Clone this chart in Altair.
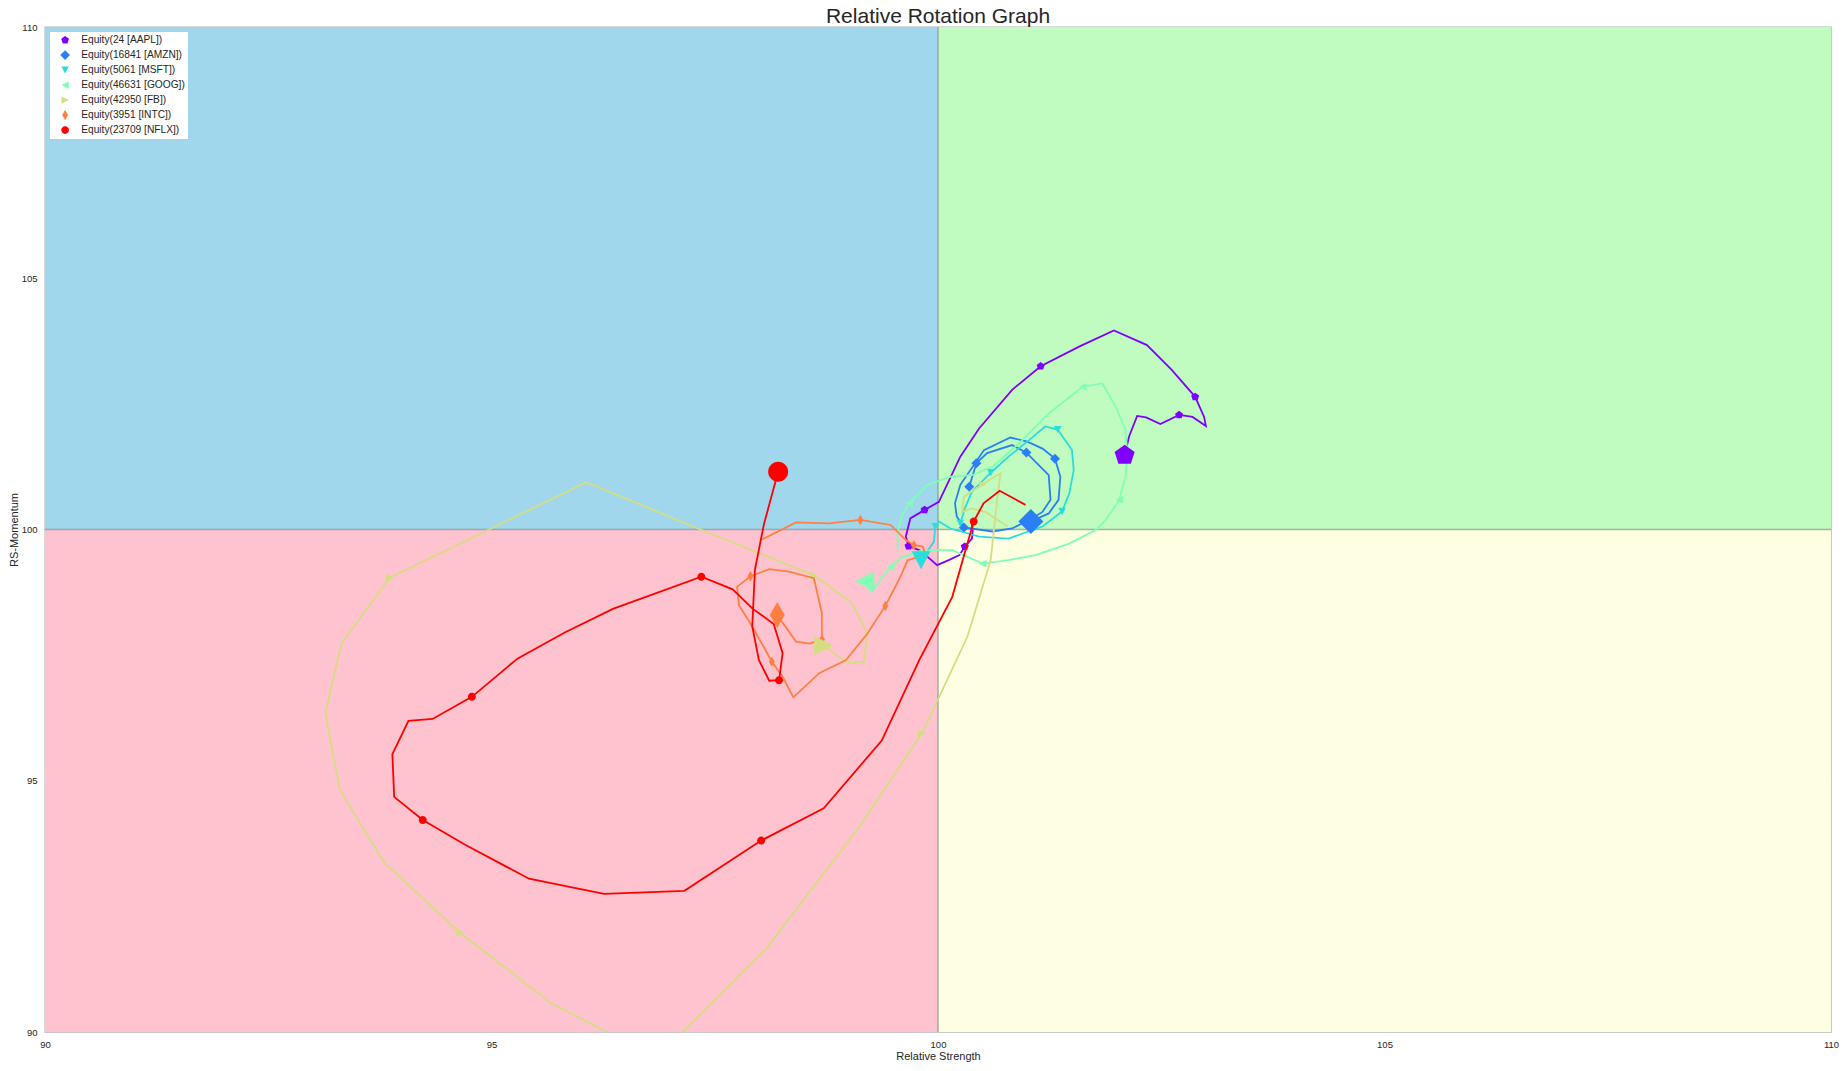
import pandas as pd
import altair as alt

NAMES = ["Equity(24 [AAPL])", "Equity(16841 [AMZN])", "Equity(5061 [MSFT])",
         "Equity(46631 [GOOG])", "Equity(42950 [FB])", "Equity(3951 [INTC])",
         "Equity(23709 [NFLX])"]
COLORS = ["#8000ff", "#2a7ff6", "#2adddd", "#80ffb4", "#d4dd80", "#ff8042", "#ff0000"]
SHAPES = [
    "M0,-1.05L1,-0.32L0.62,0.85L-0.62,0.85L-1,-0.32Z",   # pentagon
    "M0,-1.25L1.25,0L0,1.25L-1.25,0Z",                    # diamond
    "M-0.95,-0.9L0.95,-0.9L0,0.9Z",                       # triangle down
    "M-0.95,0L0.95,-0.95L0.95,0.95Z",                     # triangle left
    "M0.95,0L-0.95,-0.95L-0.95,0.95Z",                    # triangle right
    "M0,-1.3L0.75,0L0,1.3L-0.75,0Z",                      # thin diamond
    "M1,0A1,1,0,1,1,-1,0A1,1,0,1,1,1,0Z",                 # circle
]

TICKS = [90, 95, 100, 105, 110]
MID = [100]

# quadrants: lagging / improving / leading / weakening
QUAD_X = [90, 90, 100, 100]
QUAD_X2 = [100, 100, 110, 110]
QUAD_Y = [90, 100, 100, 90]
QUAD_Y2 = [100, 110, 110, 100]
QUAD_FILL = ["#fec3ce", "#a0d7ec", "#c0fcc0", "#fefee2"]

AAPL_X = [100.37, 100.39, 100.38, 100.30, 100.24, 100.12, 99.99, 99.90, 99.79, 99.67, 99.64,
          99.69, 99.85, 100.01, 100.25, 100.46, 100.83, 101.15, 101.58, 101.97, 102.34,
          102.62, 102.88, 102.98, 103.00, 102.85, 102.70, 102.49, 102.33, 102.23, 102.14, 102.09]
AAPL_Y = [100.20, 99.99, 99.82, 99.66, 99.49, 99.39, 99.29, 99.43, 99.59, 99.67, 99.86,
          100.22, 100.39, 100.55, 101.45, 102.01, 102.78, 103.25, 103.64, 103.96, 103.67,
          103.17, 102.64, 102.24, 102.06, 102.24, 102.28, 102.10, 102.23, 102.26, 101.85, 101.48]
AAPL_M = [3, 9, 12, 17, 22, 26]

AMZN_X = [100.35, 100.43, 100.55, 100.83, 100.99, 101.24, 101.26, 101.17, 101.02, 100.83,
          100.61, 100.29, 100.21, 100.19, 100.25, 100.515, 100.81, 101.00, 101.17, 101.31,
          101.37, 101.35, 101.24, 101.04]
AMZN_Y = [100.85, 101.32, 101.52, 101.68, 101.53, 101.08, 100.59, 100.35, 100.19, 100.02,
          99.96, 100.04, 100.26, 100.52, 100.89, 101.58, 101.83, 101.75, 101.61, 101.41,
          101.05, 100.59, 100.32, 100.16]
AMZN_M = [0, 1, 4, 11, 19]

MSFT_X = [100.25, 100.30, 100.38, 100.59, 100.79, 101.00, 101.20, 101.34, 101.50, 101.52,
          101.47, 101.39, 101.17, 100.79, 100.46, 100.14, 100.01, 99.97, 99.955, 99.81]
MSFT_Y = [100.12, 100.42, 100.75, 101.13, 101.45, 101.75, 102.05, 101.99, 101.58, 101.18,
          100.72, 100.36, 100.06, 99.82, 99.86, 100.02, 100.16, 100.06, 99.76, 99.39]
MSFT_M = [0, 3, 7, 11, 17]

GOOG_X = [99.55, 99.545, 99.59, 99.675, 99.88, 100.14, 100.38, 100.61, 100.91, 101.24,
          101.62, 101.84, 101.99, 102.10, 102.12, 102.10, 102.03, 101.88, 101.765, 101.47,
          101.09, 100.79, 100.50, 100.16, 99.97, 99.79, 99.58, 99.47, 99.38, 99.26, 99.18]
GOOG_Y = [99.59, 99.92, 100.26, 100.52, 100.89, 101.05, 101.08, 101.25, 101.72, 102.31,
          102.84, 102.91, 102.44, 101.98, 101.52, 101.05, 100.59, 100.19, 99.99, 99.72,
          99.49, 99.39, 99.32, 99.59, 99.59, 99.57, 99.43, 99.26, 99.06, 98.76, 98.97]
GOOG_M = [3, 10, 16, 22, 27]

FB_X = [100.78, 100.53, 100.37, 100.27, 100.29, 100.50, 100.70, 100.66, 100.59, 100.33,
        99.82, 99.12, 98.09, 96.85, 95.67, 94.65, 93.80, 93.30, 93.14, 93.32,
        93.86, 94.95, 96.06, 97.30, 98.61, 99.04, 99.21, 99.17, 98.985, 98.72]
FB_Y = [100.06, 100.35, 100.42, 100.35, 100.65, 100.90, 101.12, 100.55, 99.39, 97.87,
        95.94, 94.09, 91.69, 89.49, 90.57, 91.97, 93.37, 94.82, 96.35, 97.73,
        99.04, 99.98, 100.94, 100.03, 99.09, 98.53, 97.93, 97.37, 97.34, 97.69]
FB_M = [5, 10, 15, 20, 24]

INTC_X = [98.03, 98.41, 98.78, 99.13, 99.47, 99.64, 99.73, 99.83, 99.86, 99.66,
          99.56, 99.41, 99.21, 98.97, 98.67, 98.38, 98.26, 98.14, 97.92, 97.77,
          97.75, 97.90, 98.11, 98.33, 98.61, 98.70, 98.70, 98.56, 98.41, 98.20]
INTC_Y = [99.80, 100.14, 100.12, 100.19, 100.09, 99.79, 99.69, 99.66, 99.49, 99.39,
          98.99, 98.48, 97.93, 97.40, 97.14, 96.66, 97.07, 97.37, 98.07, 98.50,
          98.86, 99.07, 99.21, 99.16, 99.03, 98.33, 97.81, 97.73, 97.77, 98.30]
INTC_M = [3, 6, 11, 17, 21, 26]

NFLX_X = [100.98, 100.69, 100.51, 100.40, 100.16, 99.79, 99.37, 98.72, 98.02, 97.16,
          96.26, 95.42, 94.70, 94.23, 93.91, 93.89, 94.07, 94.34, 94.78, 95.29,
          95.82, 96.36, 97.35, 97.70, 97.92, 98.16, 98.26, 98.22, 98.11, 97.995,
          97.92, 97.95, 98.05, 98.21]
NFLX_Y = [100.49, 100.77, 100.52, 100.16, 98.66, 97.40, 95.80, 94.45, 93.81, 92.81,
          92.75, 93.05, 93.73, 94.22, 94.68, 95.53, 96.19, 96.23, 96.67, 97.43,
          97.95, 98.42, 99.06, 98.81, 98.43, 98.12, 97.54, 97.00, 96.99, 97.40,
          98.07, 99.20, 100.10, 101.15]
NFLX_M = [3, 8, 13, 18, 22, 27]

SERIES = [
    (AAPL_X, AAPL_Y, AAPL_M), (AMZN_X, AMZN_Y, AMZN_M), (MSFT_X, MSFT_Y, MSFT_M),
    (GOOG_X, GOOG_Y, GOOG_M), (FB_X, FB_Y, FB_M), (INTC_X, INTC_Y, INTC_M),
    (NFLX_X, NFLX_Y, NFLX_M),
]

rows = []
for name, (xs, ys, marks) in zip(NAMES, SERIES):
    for i, (x, y) in enumerate(zip(xs, ys)):
        if i == len(xs) - 1:
            kind = "big"
        elif i in marks:
            kind = "small"
        else:
            kind = "none"
        rows.append({"series": name, "idx": i, "x": x, "y": y, "kind": kind})
df = pd.DataFrame(rows)

quads = pd.DataFrame({"x": QUAD_X, "x2": QUAD_X2, "y": QUAD_Y, "y2": QUAD_Y2, "fill": QUAD_FILL})

FONT = "Liberation Sans"
scale_xy = alt.Scale(domain=[90, 110], nice=False, zero=False)
color_scale = alt.Scale(domain=NAMES, range=COLORS)
shape_scale = alt.Scale(domain=NAMES, range=SHAPES)

axis_x = alt.Axis(values=TICKS, format="d", title="Relative Strength", labelPadding=7,
                  titlePadding=2, labelFlush=False)
axis_y = alt.Axis(values=TICKS, format="d", title="RS-Momentum", labelPadding=8,
                  titlePadding=2, labelFlush=False)


def enc_x():
    return alt.X("x:Q", scale=scale_xy, axis=axis_x)


def enc_y():
    return alt.Y("y:Q", scale=scale_xy, axis=axis_y)


legend = alt.Legend(
    title=None, orient="top-left", offset=5, padding=3, fillColor="white",
    labelFont=FONT, labelFontSize=10.2, labelColor="#262626", labelLimit=0,
    symbolSize=60, symbolOffset=7, labelOffset=11, rowPadding=4,
    symbolStrokeWidth=0, zindex=1,
)

quad_layer = alt.Chart(quads).mark_rect().encode(
    x=enc_x(), x2="x2:Q", y=enc_y(), y2="y2:Q",
    fill=alt.Fill("fill:N", scale=None),
)

mid_v = alt.Chart(pd.DataFrame({"x": MID})).mark_rule(
    color="#888888", opacity=0.65, strokeWidth=1.5
).encode(x=enc_x())
mid_h = alt.Chart(pd.DataFrame({"y": MID})).mark_rule(
    color="#888888", opacity=0.65, strokeWidth=1.5
).encode(y=enc_y())

layers = [quad_layer, mid_v, mid_h]
for name, color, shape in zip(NAMES, COLORS, SHAPES):
    d = df[df["series"] == name]
    line = alt.Chart(d).mark_line(strokeWidth=1.8, clip=True, color=color).encode(
        x=enc_x(), y=enc_y(), order=alt.Order("idx:Q"),
    )
    small = alt.Chart(d[d["kind"] == "small"]).mark_point(
        filled=True, opacity=1, size=64, strokeWidth=0, color=color, shape=shape
    ).encode(x=enc_x(), y=enc_y())
    layers += [line, small]

big = alt.Chart(df[df["kind"] == "big"]).mark_point(
    filled=True, opacity=1, size=400, strokeWidth=0
).encode(
    x=enc_x(), y=enc_y(),
    color=alt.Color("series:N", scale=color_scale, legend=legend),
    shape=alt.Shape("series:N", scale=shape_scale, legend=legend),
)
layers.append(big)

chart = (
    alt.layer(*layers)
    .properties(
        width=1786, height=1005,
        autosize=alt.AutoSizeParams(type="none"),
        padding={"left": 37, "top": 19, "right": 8, "bottom": 33},
        title=alt.TitleParams("Relative Rotation Graph", font=FONT, fontSize=21,
                              fontWeight="normal", color="#262626", anchor="middle",
                              frame="group", offset=-5, zindex=1),
    )
    .configure_view(stroke="#cccccc", strokeWidth=1.5)
    .configure_axis(
        grid=True, gridColor="#000000", gridOpacity=0.07, gridWidth=1,
        domain=False, ticks=False, tickSize=0, zindex=1,
        labelFont=FONT, labelFontSize=9.5, labelColor="#262626",
        titleFont=FONT, titleFontSize=11, titleFontWeight="normal", titleColor="#262626",
    )
)

chart.save("out.html", embed_options={"renderer": "svg", "actions": False})
